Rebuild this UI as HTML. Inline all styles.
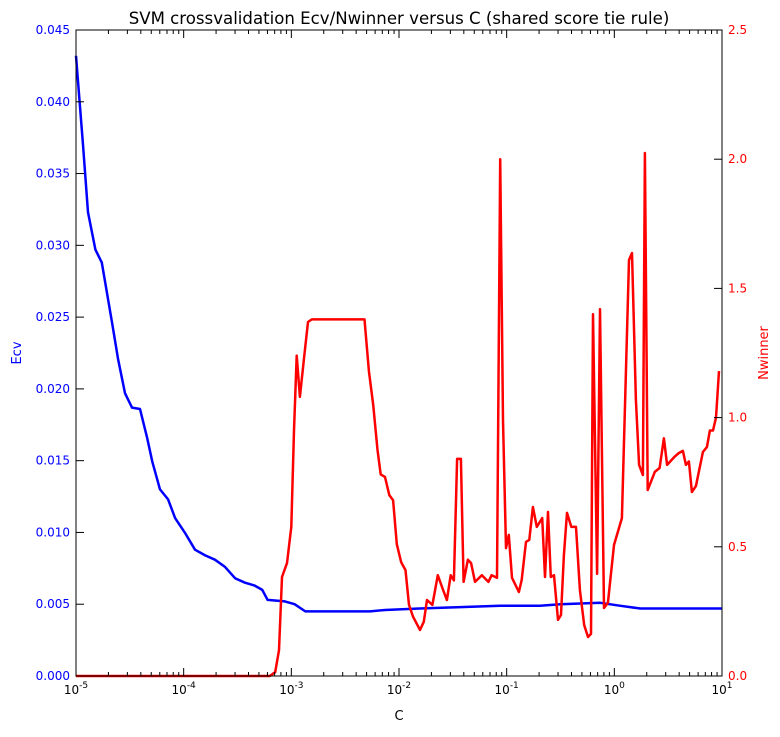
<!DOCTYPE html>
<html><head><meta charset="utf-8"><style>
body{margin:0;background:#fff;}
svg text{font-family:"DejaVu Sans","Liberation Sans",sans-serif;}
</style></head><body>
<svg id="chart" width="780" height="732" xmlns="http://www.w3.org/2000/svg">
<rect width="780" height="732" fill="#fff"/>
<text x="399" y="24" font-size="16.6" text-anchor="middle">SVM crossvalidation Ecv/Nwinner versus C (shared score tie rule)</text>
<g id="plot"></g>
<text x="399" y="720" font-size="13" text-anchor="middle">C</text>
<text transform="translate(21,353) rotate(-90)" font-size="13" fill="#0000ff" text-anchor="middle">Ecv</text>
<text transform="translate(768,353) rotate(-90)" font-size="13" fill="#ff0000" text-anchor="middle">Nwinner</text>
</svg>
<script>
const xTickExps = [-5,-4,-3,-2,-1,0,1];
const leftTicks = [0,0.005,0.01,0.015,0.02,0.025,0.03,0.035,0.04,0.045];
const leftTickLabels = ["0.000","0.005","0.010","0.015","0.020","0.025","0.030","0.035","0.040","0.045"];
const rightTicks = [0,0.5,1,1.5,2,2.5];
const rightTickLabels = ["0.0","0.5","1.0","1.5","2.0","2.5"];
const ecvLogC = [-5,-4.935,-4.889,-4.82,-4.76,-4.665,-4.61,-4.545,-4.48,-4.406,-4.34,-4.29,-4.22,-4.145,-4.08,-3.99,-3.895,-3.8,-3.71,-3.616,-3.52,-3.43,-3.34,-3.27,-3.22,-3.06,-2.97,-2.87,-2.55,-2.27,-2.13,-1.81,-1.43,-1.06,-0.69,-0.5,-0.13,0.05,0.24,0.61,1.0];
const ecvValues = [0.0432,0.037,0.0323,0.0297,0.0288,0.0246,0.0221,0.0197,0.0187,0.0186,0.0166,0.0149,0.013,0.0123,0.011,0.01,0.0088,0.0084,0.0081,0.0076,0.0068,0.0065,0.0063,0.006,0.0053,0.0052,0.005,0.0045,0.0045,0.0045,0.0046,0.0047,0.0048,0.0049,0.0049,0.005,0.0051,0.0049,0.0047,0.0047,0.0047];
const nwLogC = [-5,-3.2,-3.15,-3.115,-3.087,-3.04,-3.0,-2.975,-2.95,-2.92,-2.88,-2.845,-2.81,-2.32,-2.28,-2.24,-2.2,-2.17,-2.13,-2.09,-2.055,-2.02,-1.98,-1.94,-1.907,-1.87,-1.805,-1.77,-1.74,-1.69,-1.64,-1.59,-1.555,-1.52,-1.49,-1.46,-1.425,-1.4,-1.36,-1.33,-1.294,-1.23,-1.17,-1.14,-1.09,-1.06,-1.034,-1.006,-0.98,-0.95,-0.886,-0.86,-0.82,-0.79,-0.756,-0.72,-0.67,-0.644,-0.616,-0.59,-0.56,-0.523,-0.495,-0.468,-0.44,-0.4,-0.356,-0.32,-0.28,-0.245,-0.217,-0.198,-0.16,-0.133,-0.096,-0.06,-0.003,0.07,0.136,0.164,0.2,0.23,0.265,0.284,0.31,0.376,0.42,0.46,0.49,0.563,0.6,0.637,0.665,0.693,0.72,0.758,0.823,0.86,0.888,0.916,0.944,0.972];
const nwValues = [0,0,0.015,0.1,0.383,0.437,0.577,0.95,1.24,1.08,1.24,1.37,1.38,1.38,1.18,1.05,0.875,0.78,0.77,0.7,0.68,0.51,0.44,0.41,0.275,0.23,0.178,0.21,0.294,0.275,0.39,0.333,0.294,0.39,0.37,0.84,0.84,0.364,0.45,0.437,0.364,0.39,0.364,0.39,0.38,2.0,0.99,0.495,0.546,0.38,0.325,0.372,0.519,0.527,0.654,0.577,0.611,0.383,0.635,0.383,0.39,0.217,0.236,0.468,0.631,0.577,0.577,0.333,0.197,0.151,0.163,1.4,0.395,1.42,0.263,0.283,0.507,0.611,1.61,1.637,1.068,0.817,0.778,2.024,0.72,0.79,0.805,0.92,0.817,0.85,0.863,0.871,0.817,0.83,0.712,0.735,0.867,0.886,0.95,0.95,1.0,1.18];

const X0=76,X1=722,Y0=30,Y1=676;
const xs=l=>X0+(l+5)/6*(X1-X0);
const yL=v=>Y1-v/0.045*(Y1-Y0);
const yR=v=>Y1-v/2.5*(Y1-Y0);
const NS="http://www.w3.org/2000/svg";
const g=document.getElementById('plot');
function mk(t,a,parent){const e=document.createElementNS(NS,t);for(const k in a)e.setAttribute(k,a[k]);(parent||g).appendChild(e);return e;}

let d=ecvLogC.map((l,i)=>(i?'L':'M')+xs(l).toFixed(1)+','+yL(ecvValues[i]).toFixed(1)).join('');
const ecv=mk('path',{d:d,fill:'none',stroke:'#0000ff','stroke-width':2.5,'stroke-linejoin':'round'});


d=nwLogC.map((l,i)=>(i?'L':'M')+xs(l).toFixed(1)+','+yR(nwValues[i]).toFixed(1)).join('');
const nw=mk('path',{d:d,fill:'none',stroke:'#ff0000','stroke-width':2.5,'stroke-linejoin':'round'});



const fr=mk('rect',{x:X0,y:Y0,width:X1-X0,height:Y1-Y0,fill:'none',stroke:'#000','stroke-width':1});



xTickExps.forEach(e=>{
  const x=xs(e);
  mk('line',{x1:x,x2:x,y1:Y1,y2:Y1-8,stroke:'#000'});
  mk('line',{x1:x,x2:x,y1:Y0,y2:Y0+8,stroke:'#000'});
  const t=mk('text',{x:x,y:Y1+18,'font-size':12,'text-anchor':'middle'});
  
  
  t.innerHTML='10<tspan dy="-6" font-size="9">'+e+'</tspan>';
  if(e<1){for(let m=2;m<10;m++){const xm=xs(e+Math.log10(m));
    mk('line',{x1:xm,x2:xm,y1:Y1,y2:Y1-4,stroke:'#000'});
    mk('line',{x1:xm,x2:xm,y1:Y0,y2:Y0+4,stroke:'#000'});}}
});
leftTicks.forEach((v,i)=>{
  const y=yL(v);
  mk('line',{x1:X0,x2:X0+8,y1:y,y2:y,stroke:'#000'});
  const t=mk('text',{x:X0-6,y:y+4,'font-size':12,'text-anchor':'end',fill:'#0000ff'});
  
  
  t.textContent=leftTickLabels[i];
});
rightTicks.forEach((v,i)=>{
  const y=yR(v);
  mk('line',{x1:X1,x2:X1-8,y1:y,y2:y,stroke:'#000'});
  const t=mk('text',{x:X1+6,y:y+4,'font-size':12,fill:'#ff0000'});
  
  
  t.textContent=rightTickLabels[i];
});
</script>
</body></html>
